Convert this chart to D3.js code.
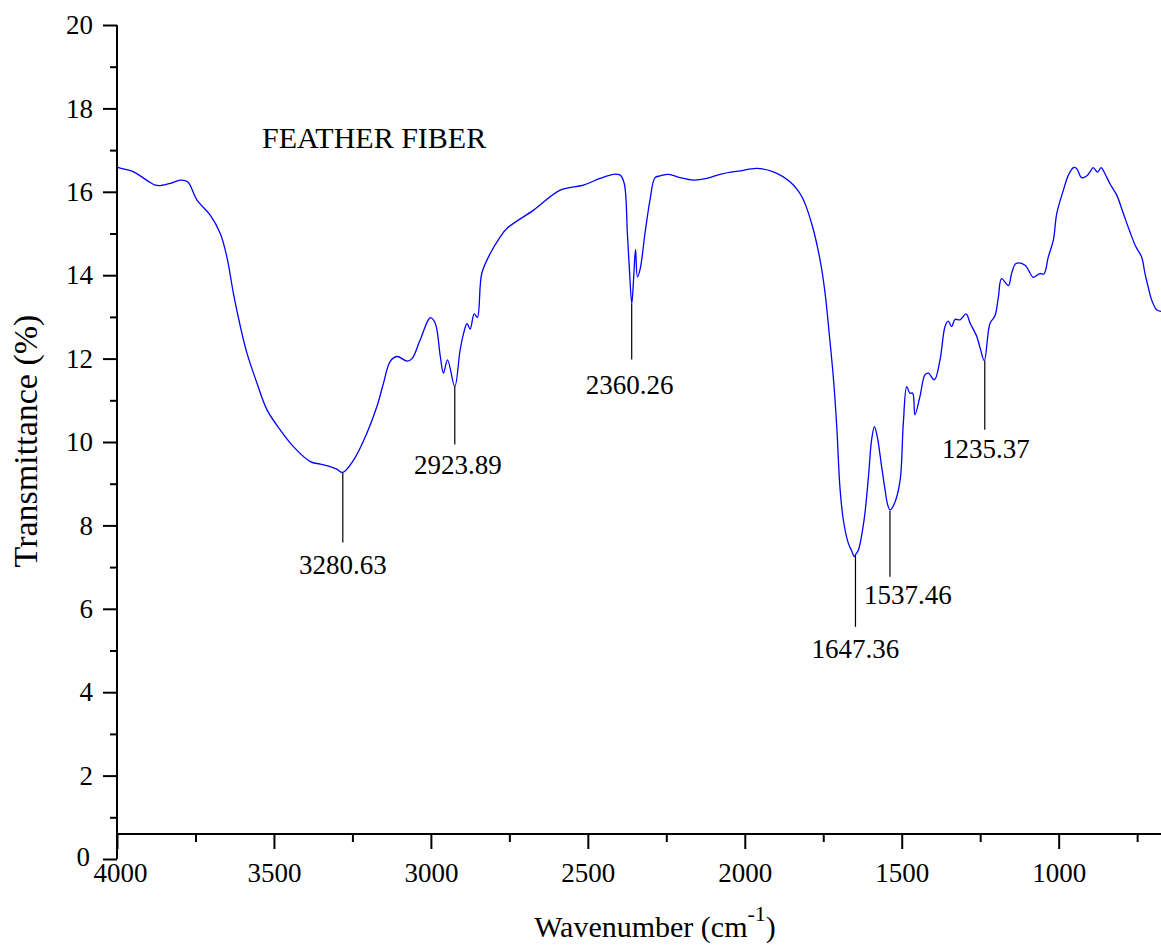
<!DOCTYPE html>
<html><head><meta charset="utf-8">
<script src="https://cdn.jsdelivr.net/npm/d3@7"></script>
<style>
body{margin:0;background:#fff;}
svg{display:block;font-family:"Liberation Serif","Times New Roman",serif;}
</style></head>
<body>
<svg id="chart" width="1161" height="945"></svg>
<script>
// ---- data ----
const wavenumber = [4000,3995,3947,3900,3878,3862,3830,3798,3775,3745,3703,3671,3650,3629,3607,3586,3554,3522,3480,3438,3384,3353,3321,3300,3281,3246,3204,3172,3151,3130,3108,3076,3060,3034,3002,2986,2970,2960,2947,2924,2907,2896,2885,2875,2862,2852,2838,2811,2779,2758,2673,2588,2514,2461,2418,2397,2384,2374,2368,2360,2355,2348,2342,2333,2318,2302,2286,2270,2243,2206,2164,2121,2079,2040,2015,1962,1909,1856,1818,1787,1760,1744,1731,1718,1707,1697,1686,1670,1660,1651,1647,1638,1620,1606,1596,1587,1578,1564,1553,1545,1537,1521,1505,1495,1484,1474,1465,1458,1442,1426,1415,1396,1378,1362,1352,1341,1330,1314,1295,1282,1261,1250,1237,1219,1203,1192,1182,1160,1150,1136,1107,1081,1060,1047,1033,1017,1006,985,969,953,943,927,911,900,890,876,865,853,837,815,794,773,754,736,725,715,704,688,674];
const transmittance = [16.60,16.58,16.48,16.25,16.16,16.15,16.20,16.28,16.24,15.80,15.44,15.00,14.44,13.56,12.77,12.13,11.41,10.77,10.29,9.89,9.53,9.47,9.41,9.35,9.27,9.57,10.21,10.85,11.41,11.93,12.05,11.94,12.00,12.45,12.98,12.84,12.05,11.65,11.97,11.33,12.20,12.60,12.84,12.71,13.07,12.99,14.04,14.52,14.92,15.12,15.56,16.04,16.16,16.32,16.42,16.40,16.20,15.00,14.20,13.32,13.80,14.62,13.96,14.16,15.00,15.80,16.34,16.38,16.42,16.34,16.28,16.32,16.42,16.48,16.50,16.56,16.48,16.24,15.88,15.24,14.36,13.56,12.60,11.56,10.37,8.93,8.13,7.57,7.40,7.25,7.30,7.41,8.13,9.17,10.05,10.37,10.13,9.41,8.85,8.50,8.37,8.57,9.09,10.44,11.33,11.17,11.17,10.65,11.09,11.61,11.65,11.49,11.97,12.77,12.90,12.77,12.94,12.93,13.07,12.85,12.53,12.25,11.95,12.84,13.03,13.48,13.92,13.75,14.04,14.28,14.24,13.95,14.04,14.03,14.44,14.84,15.48,16.04,16.40,16.58,16.56,16.34,16.38,16.48,16.58,16.47,16.58,16.44,16.20,15.92,15.48,15.04,14.68,14.44,14.04,13.72,13.41,13.17,13.13];

const peakWavenumber = [3280.63, 2923.89, 2360.26, 1647.36, 1537.46, 1235.37];
const peakTransmittance = [9.27, 11.33, 13.32, 7.27, 8.35, 11.95];
const peakLabels = ["3280.63","2923.89","2360.26","1647.36","1537.46","1235.37"];

const xTicks = [4000,3500,3000,2500,2000,1500,1000];
const xMinorTicks = [3750,3250,2750,2250,1750,1250,750];
const yTicks = [0,2,4,6,8,10,12,14,16,18,20];
const yMinorTicks = [1,3,5,7,9,11,13,15,17,19];

const chartTitle = "FEATHER FIBER";
const yTitle = "Transmittance (%)";

// ---- layout ----
const FONT = "Liberation Serif, Times New Roman, serif";
const svg = d3.select("#chart");
const x = d3.scaleLinear().domain([4000, 674]).range([117, 1161]);
const y = d3.scaleLinear().domain([0, 20]).range([859, 25]);
const xAxisY = 834;

// spectrum
const pts = wavenumber.map((w,i)=>[w, transmittance[i]]);
const line = d3.line().x(d=>x(d[0])).y(d=>y(d[1])).curve(d3.curveCatmullRom.alpha(0.5));
svg.append("path").datum(pts)
  .attr("d", line)
  .attr("fill","none").attr("stroke","#0000ff").attr("stroke-width",1.3);

// y axis
const yAxis = d3.axisLeft(y).tickValues(yTicks).tickSize(14).tickPadding(10).tickFormat(d3.format("d"));
const gy = svg.append("g").attr("transform","translate(117,0)").call(yAxis).attr("font-family",FONT);
gy.select(".domain").attr("d","M0,25V859").attr("stroke","#000").attr("stroke-width",2);
gy.selectAll(".tick line").attr("stroke","#000").attr("stroke-width",2);
gy.selectAll(".tick text").attr("font-size",27).attr("fill","#000");
gy.selectAll(".tick").filter(d=>d===0).select("text").attr("x",-27).attr("dy","0.25em");
const gyMinor = svg.append("g").attr("transform","translate(117,0)")
  .call(d3.axisLeft(y).tickValues(yMinorTicks).tickSize(7).tickFormat(""));
gyMinor.select(".domain").remove();
gyMinor.selectAll(".tick line").attr("stroke","#000").attr("stroke-width",2);

// x axis
const xAxis = d3.axisBottom(x).tickValues(xTicks).tickSize(15).tickPadding(14).tickFormat(d3.format("d"));
const gx = svg.append("g").attr("transform",`translate(0,${xAxisY})`).call(xAxis).attr("font-family",FONT);
gx.select(".domain").attr("d","M117,0H1161").attr("stroke","#000").attr("stroke-width",2);
gx.selectAll(".tick line").attr("stroke","#000").attr("stroke-width",2);
gx.selectAll(".tick text").attr("font-size",27).attr("fill","#000");
gx.selectAll(".tick").filter(d=>d===4000).select("text").attr("x",3);
const gxMinor = svg.append("g").attr("transform",`translate(0,${xAxisY})`)
  .call(d3.axisBottom(x).tickValues(xMinorTicks).tickSize(8).tickFormat(""));
gxMinor.select(".domain").remove();
gxMinor.selectAll(".tick line").attr("stroke","#000").attr("stroke-width",2);

// peak annotations
const lineLen = [70, 58, 56, 71, 66, 69];
const labelDx = [0, 3, -2, 0, 18, 1];
const labelGap = [32, 29, 34, 31, 27, 28];
peakWavenumber.forEach((w,i)=>{
  const px = x(w), py = y(peakTransmittance[i]);
  svg.append("line").attr("x1",px).attr("x2",px).attr("y1",py).attr("y2",py+lineLen[i])
    .attr("stroke","#000").attr("stroke-width",1.2);
  svg.append("text").attr("x",px+labelDx[i]).attr("y",py+lineLen[i]+labelGap[i])
    .attr("text-anchor","middle").attr("font-size",27).attr("font-family",FONT).text(peakLabels[i]);
});

// title
svg.append("text").attr("x",262).attr("y",148).attr("font-size",30).attr("font-family",FONT).text(chartTitle);

// axis titles
svg.append("text").attr("transform","translate(37,441) rotate(-90)")
  .attr("text-anchor","middle").attr("font-size",34).attr("font-family",FONT).text(yTitle);
const xt = svg.append("text").attr("x",655).attr("y",937).attr("text-anchor","middle")
  .attr("font-size",30).attr("font-family",FONT);
xt.append("tspan").text("Wavenumber (cm");
xt.append("tspan").attr("font-size",22).attr("dy",-16).text("-1");
xt.append("tspan").attr("dy",16).text(")");
</script>
</body></html>
